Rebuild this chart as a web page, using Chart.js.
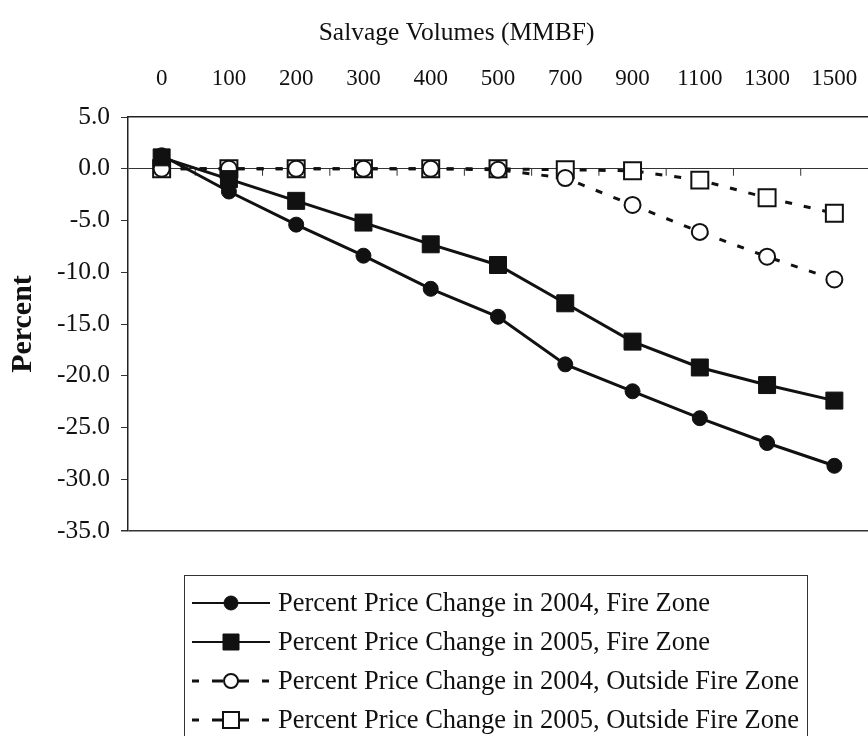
<!DOCTYPE html>
<html lang="en">
<head>
    <meta charset="UTF-8">
    <title>Salvage Volumes - Percent Price Change</title>
    <script src="https://cdn.jsdelivr.net/npm/chart.js"></script>
    <style>
        html, body { margin: 0; padding: 0; background: #fff; }
        body { width: 868px; height: 736px; position: relative; overflow: hidden; font-family: "Liberation Serif", serif; }
        #wrap { position: absolute; left: 0; top: 0; width: 868px; height: 736px; }
        #legend {
            position: absolute; left: 184px; top: 575px; width: 624px; height: 175px;
            border: 1px solid #333; box-sizing: border-box; padding-top: 7px;
        }
        .item { height: 39px; display: flex; align-items: center; }
        .item canvas { margin-left: 7px; margin-right: 8px; }
        .item span { font-size: 26.5px; color: #111; white-space: nowrap; }
    </style>
</head>
<body>
<div id="wrap"><canvas id="chart" width="868" height="736"></canvas></div>
<div id="legend"></div>

<script>
    // salvage volumes (MMBF) on the category axis
    const volumes = ['0', '100', '200', '300', '400', '500', '700', '900', '1100', '1300', '1500'];

    // percent price change
    const fire2004 = [1.3, -2.2, -5.4, -8.4, -11.6, -14.3, -18.9, -21.5, -24.1, -26.5, -28.7];
    const fire2005 = [1.1, -1.0, -3.1, -5.2, -7.3, -9.3, -13.0, -16.7, -19.2, -20.9, -22.4];
    const outside2004 = [0, 0, 0, 0, 0, -0.1, -0.9, -3.5, -6.1, -8.5, -10.7];
    const outside2005 = [0, 0, 0, 0, 0, 0, -0.1, -0.2, -1.1, -2.8, -4.3];

    const seriesLabels = [
        'Percent Price Change in 2004, Fire Zone',
        'Percent Price Change in 2005, Fire Zone',
        'Percent Price Change in 2004, Outside Fire Zone',
        'Percent Price Change in 2005, Outside Fire Zone'
    ];

    const xTitle = 'Salvage Volumes (MMBF)';
    const yMin = -35, yMax = 5, yStep = 5;
    const dash = [7, 12];

    // short tick marks on the zero line between categories, plus the axis title over the labels
    const extras = {
        id: 'extras',
        beforeDatasetsDraw(chart) {
            const x = chart.scales.x, y = chart.scales.y;
            const y0 = y.getPixelForValue(0);
            const ctx = chart.ctx;
            ctx.save();
            ctx.strokeStyle = '#333';
            ctx.lineWidth = 1;
            ctx.beginPath();
            for (let i = 1; i < volumes.length; i++) {
                const px = (x.getPixelForValue(i - 1) + x.getPixelForValue(i)) / 2;
                ctx.moveTo(px, y0);
                ctx.lineTo(px, y0 + 7);
            }
            ctx.stroke();
            ctx.restore();
        },
        afterDraw(chart) {
            const a = chart.chartArea;
            const ctx = chart.ctx;
            ctx.save();
            ctx.fillStyle = '#111';
            ctx.font = '25.5px "Liberation Serif"';
            ctx.textAlign = 'center';
            ctx.textBaseline = 'middle';
            ctx.fillText(xTitle, a.left + (a.right - a.left) * 0.444, 33);
            ctx.restore();
        }
    };

    const ctx = document.getElementById('chart').getContext('2d');
    const chart = new Chart(ctx, {
        type: 'line',
        data: {
            labels: volumes,
            datasets: [{
                label: seriesLabels[0],
                data: fire2004,
                borderColor: '#111',
                borderWidth: 3,
                pointStyle: 'circle',
                pointRadius: 7.5,
                pointBackgroundColor: '#111',
                pointBorderColor: '#111',
                pointBorderWidth: 1
            }, {
                label: seriesLabels[1],
                data: fire2005,
                borderColor: '#111',
                borderWidth: 3,
                pointStyle: 'rect',
                pointRadius: 12,
                pointBackgroundColor: '#111',
                pointBorderColor: '#111',
                pointBorderWidth: 1
            }, {
                label: seriesLabels[2],
                data: outside2004,
                borderColor: '#111',
                borderWidth: 3,
                borderDash: dash,
                pointStyle: 'circle',
                pointRadius: 8,
                pointBackgroundColor: '#fff',
                pointBorderColor: '#111',
                pointBorderWidth: 2
            }, {
                label: seriesLabels[3],
                data: outside2005,
                borderColor: '#111',
                borderWidth: 3,
                borderDash: dash,
                pointStyle: 'rect',
                pointRadius: 12,
                pointBackgroundColor: '#fff',
                pointBorderColor: '#111',
                pointBorderWidth: 2
            }]
        },
        options: {
            responsive: false,
            animation: false,
            // plot runs off the right edge of the picture, as in the scan
            layout: { autoPadding: false, padding: { left: 0, right: -4, top: 0, bottom: 205 } },
            plugins: {
                legend: { display: false },
                tooltip: { enabled: false }
            },
            scales: {
                x: {
                    position: 'top',
                    offset: true,
                    // invisible tick length pushes the labels up without adding side padding
                    grid: { display: false, drawTicks: true, tickLength: 24, tickColor: 'rgba(0,0,0,0)' },
                    border: { display: true, color: '#222', width: 1.5 },
                    ticks: {
                        color: '#111',
                        padding: 0,
                        maxRotation: 0,
                        autoSkip: false,
                        font: { family: 'Liberation Serif', size: 23 }
                    },
                    afterFit(scale) { scale.height = 117; }
                },
                y: {
                    min: yMin,
                    max: yMax,
                    ticks: {
                        stepSize: yStep,
                        color: '#111',
                        padding: 11,
                        callback: v => v.toFixed(1),
                        font: { family: 'Liberation Serif', size: 25.5 }
                    },
                    grid: {
                        drawTicks: true,
                        tickLength: 7,
                        tickColor: '#333',
                        color: c => (c.tick && (c.tick.value === 0 || c.tick.value === yMin)) ? '#333' : 'rgba(0,0,0,0)',
                        lineWidth: c => (c.tick && c.tick.value === yMin) ? 1.5 : 1
                    },
                    border: { display: true, color: '#222', width: 1.5 },
                    title: {
                        display: true,
                        text: 'Percent',
                        color: '#111',
                        padding: { top: 5, bottom: 0 },
                        font: { family: 'Liberation Serif', size: 30, weight: 'bold' }
                    },
                    afterFit(scale) { scale.width = 128; }
                }
            }
        },
        plugins: [extras]
    });

    // legend built from the chart datasets
    const legendDiv = document.getElementById('legend');
    chart.data.datasets.forEach(ds => {
        const row = document.createElement('div');
        row.className = 'item';
        const c = document.createElement('canvas');
        c.width = 78; c.height = 30;
        const g = c.getContext('2d');
        g.strokeStyle = ds.borderColor;
        g.lineWidth = ds.borderDash ? 3 : 2;
        g.beginPath();
        if (ds.borderDash) {
            [[0, 7], [20, 31], [46, 57], [70, 77]].forEach(s => { g.moveTo(s[0], 15); g.lineTo(s[1], 15); });
        } else {
            g.moveTo(0, 15); g.lineTo(78, 15);
        }
        g.stroke();
        const r = ds.pointStyle === 'rect' ? 8 : 7;
        g.fillStyle = ds.pointBackgroundColor;
        g.lineWidth = ds.pointBorderWidth;
        g.beginPath();
        if (ds.pointStyle === 'rect') g.rect(39 - r, 15 - r, 2 * r, 2 * r);
        else g.arc(39, 15, r, 0, Math.PI * 2);
        g.fill();
        g.stroke();
        row.appendChild(c);
        const s = document.createElement('span');
        s.textContent = ds.label;
        row.appendChild(s);
        legendDiv.appendChild(row);
    });
</script>
</body>
</html>
